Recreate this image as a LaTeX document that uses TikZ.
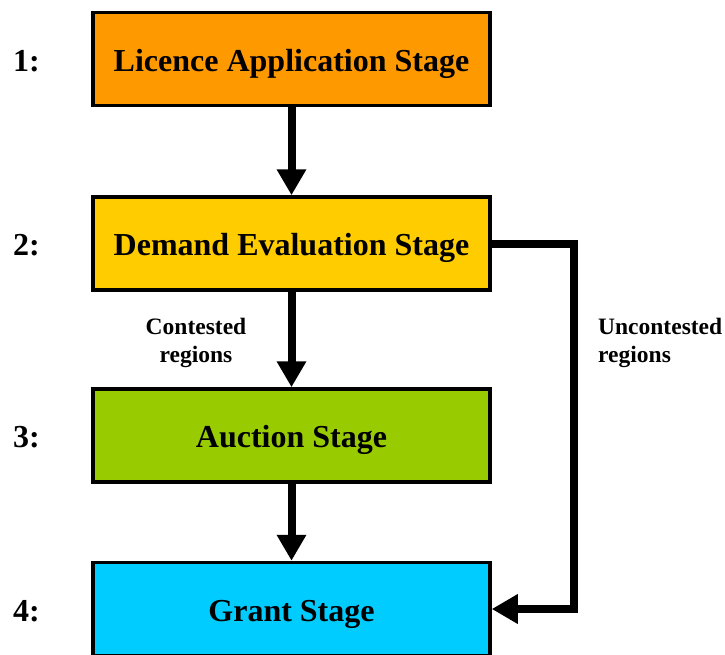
\documentclass[tikz,border=0pt]{standalone}
\usepackage{fontspec}
\setmainfont{Liberation Serif}
\usepackage{tikz}
\usetikzlibrary{arrows.meta}

\definecolor{stageorange}{RGB}{255,153,0}
\definecolor{stageyellow}{RGB}{255,204,0}
\definecolor{stagegreen}{RGB}{153,204,0}
\definecolor{stagecyan}{RGB}{0,204,255}

\tikzset{
  stagebox/.style={draw=black, line width=3.5pt, minimum width=397pt, minimum height=93pt,
    inner sep=0pt, text height=24pt, text depth=0pt, font=\fontsize{32}{36}\selectfont\bfseries},
  stagenum/.style={font=\fontsize{32}{36}\selectfont\bfseries, inner sep=0pt, anchor=base west},
  flowlabel/.style={font=\fontsize{23.5}{28}\selectfont\bfseries, inner sep=0pt},
  flow/.style={line width=8pt, line join=miter, -{Triangle[width=28pt,length=26pt]}}
}

\begin{document}
\begin{tikzpicture}[x=1pt,y=-1pt]
\useasboundingbox (0,0) rectangle (725,654);
\clip (0,0) rectangle (725,654);
% Stages
\node[stagebox, fill=stageorange] (licence) at (291.5,59) {Licence Application Stage};
\node[stagebox, fill=stageyellow] (demand) at (291.5,243.5) {Demand Evaluation Stage};
\node[stagebox, fill=stagegreen] (auction) at (291.5,435.5) {Auction Stage};
\node[stagebox, fill=stagecyan] (grant) at (291.5,609) {Grant Stage};
% Stage numbers
\node[stagenum] (n1) at (13,71) {1:};
\node[stagenum] (n2) at (13,255.5) {2:};
\node[stagenum] (n3) at (13,447.5) {3:};
\node[stagenum] (n4) at (13,621) {4:};
% Connectors
\draw[flow] (licence.south) -- (demand.north);
\draw[flow] (demand.south) -- (auction.north);
\draw[flow] (auction.south) -- (grant.north);
\draw[flow] (demand.east) -- ++(82,0) |- (grant.east);
% Connector labels
\node[flowlabel, align=center] (contested) at (196,343) {Contested\\regions};
\node[flowlabel, align=left, anchor=west] (uncontested) at (598,343) {Uncontested\\regions};
\end{tikzpicture}
\end{document}
